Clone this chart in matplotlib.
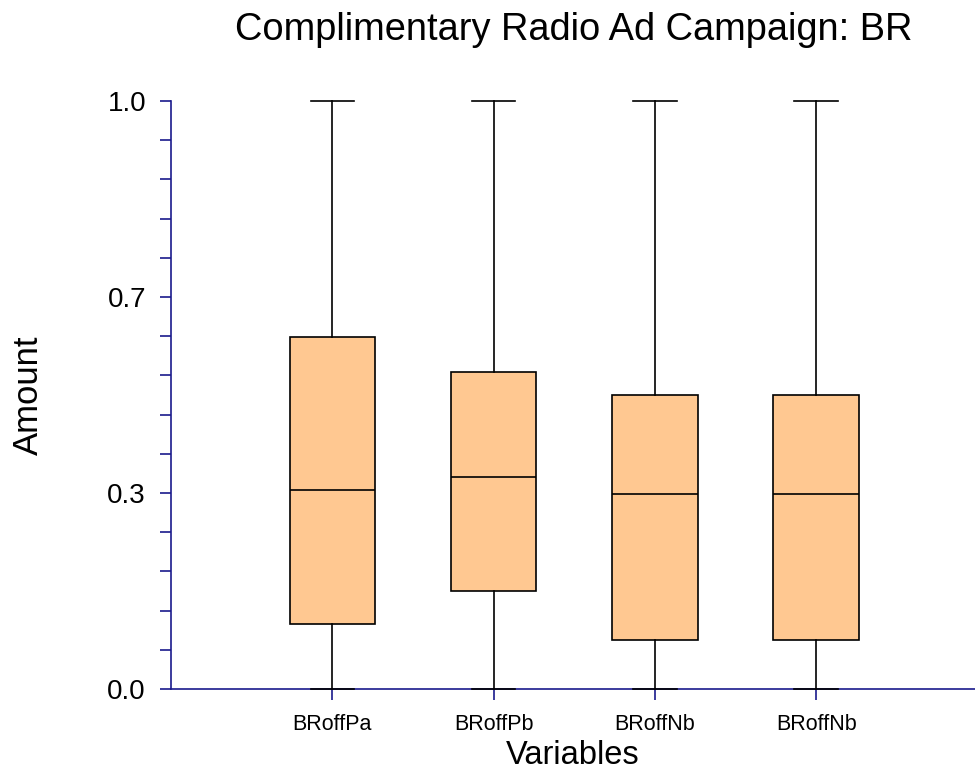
import matplotlib
matplotlib.use("Agg")
from matplotlib import pyplot as plt
from matplotlib.ticker import FixedLocator, MultipleLocator
import numpy as np

# data
variables = ["BRoffPa", "BRoffPb", "BRoffNb", "BRoffNb"]
whisker_low = [0.0, 0.0, 0.0, 0.0]
q1 = [0.111, 0.167, 0.083, 0.083]
median = [0.338, 0.361, 0.332, 0.332]
q3 = [0.599, 0.539, 0.500, 0.500]
whisker_high = [1.0, 1.0, 1.0, 1.0]

ytick_vals = [0.0, 1 / 3, 2 / 3, 1.0]
ytick_labels = ["0.0", "0.3", "0.7", "1.0"]

axis_color = "#1a1a8c"
box_color = "#FFC891"

plt.rcParams['font.family'] = ['Liberation Sans', 'DejaVu Sans']

fig = plt.figure(figsize=(9.75, 7.73), dpi=100)
ax = fig.add_axes([171 / 975, 1 - 689 / 773, 1 - 171 / 975, (689 - 101) / 773])

stats = []
for name, lo, a, m, b, hi in zip(variables, whisker_low, q1, median, q3, whisker_high):
    stats.append(dict(label=name, whislo=lo, q1=a, med=m, q3=b, whishi=hi, fliers=[]))

positions = np.arange(1, len(variables) + 1)
art = ax.bxp(stats, positions=positions, widths=0.53, patch_artist=True,
             showfliers=False, capwidths=0.27,
             boxprops=dict(facecolor=box_color, edgecolor="black", linewidth=1.2),
             medianprops=dict(color="black", linewidth=1.2),
             whiskerprops=dict(color="black", linewidth=1.2),
             capprops=dict(color="black", linewidth=1.2))
for group in art.values():
    for a in group:
        a.set_clip_on(False)

ax.set_xlim(0, 4.985)
ax.set_ylim(0, 1)

ax.spines['top'].set_visible(False)
ax.spines['right'].set_visible(False)
for s in ('left', 'bottom'):
    ax.spines[s].set_color(axis_color)
    ax.spines[s].set_linewidth(1.2)
    ax.spines[s].set_zorder(0.5)

ax.yaxis.set_major_locator(FixedLocator(ytick_vals))
ax.set_yticklabels(ytick_labels)
ax.yaxis.set_minor_locator(MultipleLocator(1 / 15))
ax.tick_params(axis='y', which='both', direction='out', length=8, width=1.2,
               color=axis_color, labelsize=20, pad=10)
ax.set_xticks(positions)
ax.set_xticklabels(variables)
ax.tick_params(axis='x', direction='out', length=8, width=1.2,
               color=axis_color, labelsize=15.5, pad=10)

ax.set_xlabel("Variables", fontsize=23.5)
ax.xaxis.set_label_coords(0.5, -(756 - 689) / 588)
ax.xaxis.label.set_va('center')
ax.set_ylabel("Amount", fontsize=25)
ax.yaxis.set_label_coords(-(171 - 28) / 804, 0.5)
ax.yaxis.label.set_va('center')

fig.text(0.588, 1 - 30 / 773, "Complimentary Radio Ad Campaign: BR",
         fontsize=27.4, ha='center', va='center')

fig.savefig("out.png", dpi=100)
